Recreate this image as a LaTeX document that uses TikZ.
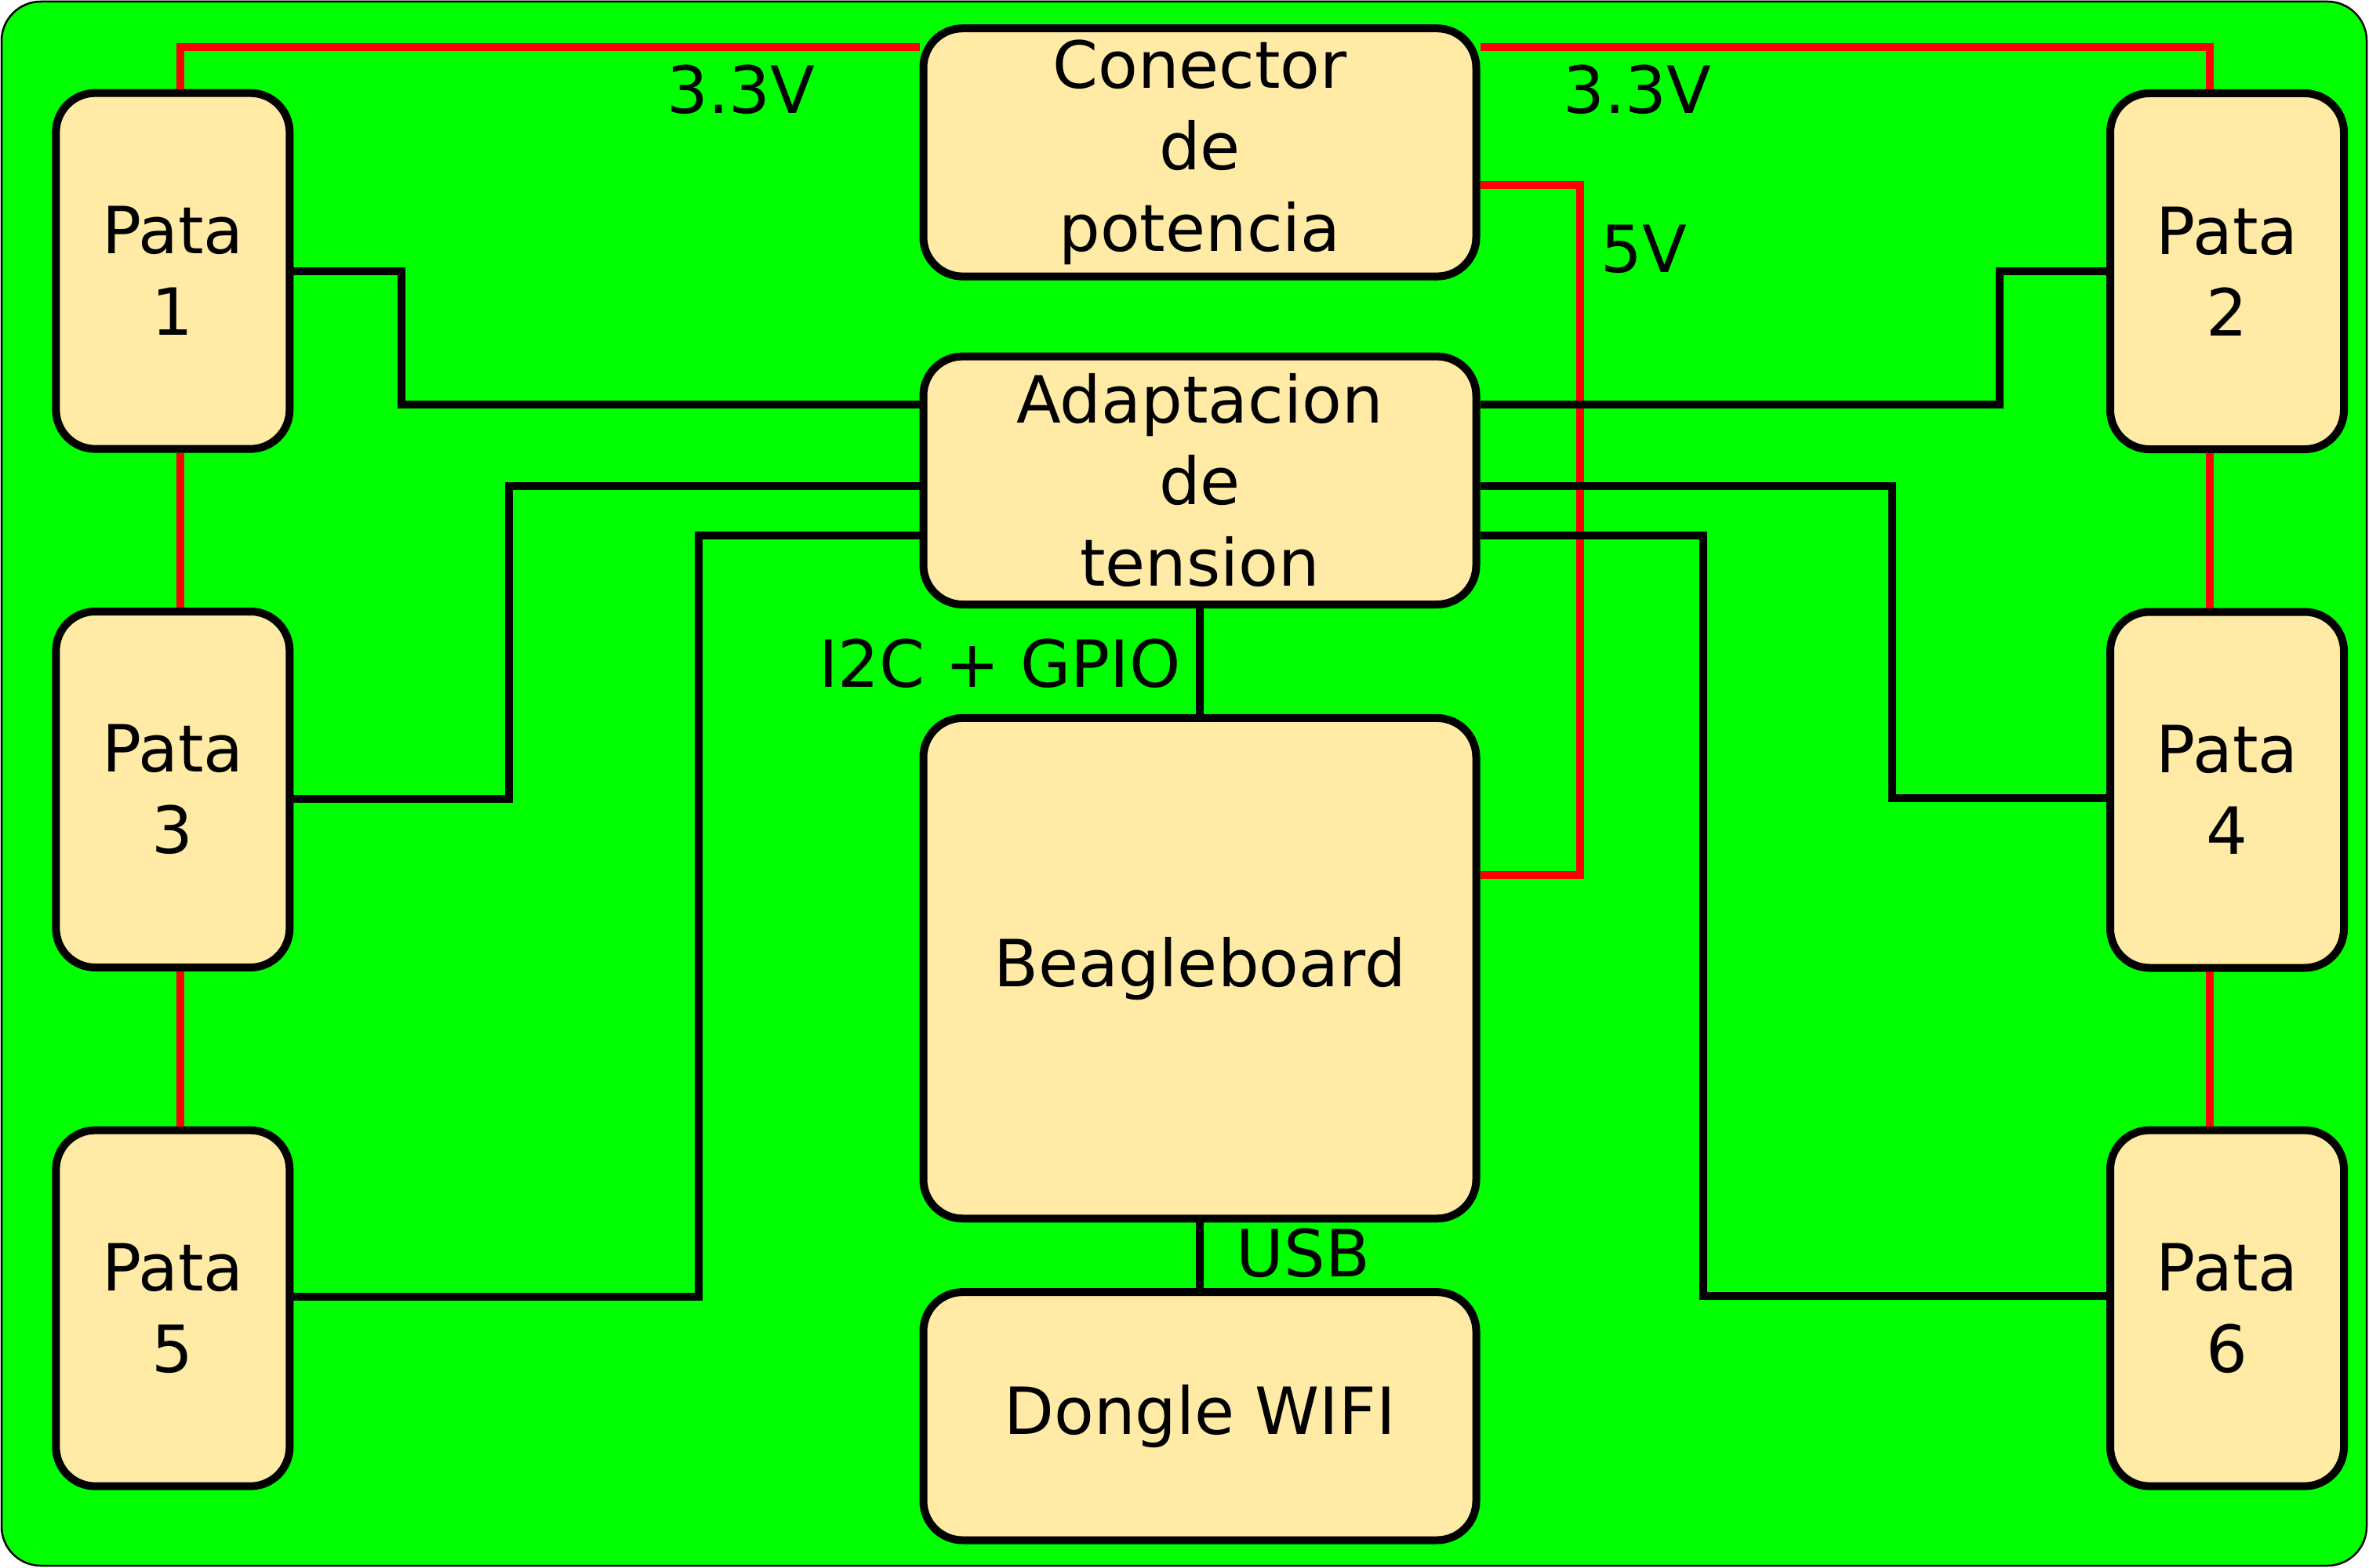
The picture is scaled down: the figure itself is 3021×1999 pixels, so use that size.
\documentclass[tikz,border=0pt]{standalone}
\usepackage{fontspec}
\setmainfont{DejaVu Sans}
\definecolor{placa}{RGB}{0,255,0}
\definecolor{caja}{RGB}{255,235,166}
\newcommand{\letra}{\fontsize{83pt}{104pt}\selectfont}
\tikzset{
  bloque/.style={draw, line width=10pt, rounded corners=50pt, fill=caja,
    align=center, inner sep=0pt, font=\letra},
  pata/.style={bloque, minimum width=298pt, minimum height=454pt},
  central/.style={bloque, minimum width=705pt, minimum height=316.4pt},
  bus/.style={line width=10pt, black},
  alim/.style={line width=10pt, red},
  etiqueta/.style={anchor=base, inner sep=0pt, font=\letra}
}

\begin{document}
\begin{tikzpicture}[x=1pt,y=-1pt]
\useasboundingbox (0,0) rectangle (3021,1999);
\draw [fill=placa, line width=2.5pt, rounded corners=50pt] (2,2) rectangle (3018,1997);

% patas
\node [pata] (p1) at (220.35,345.65) {Pata\\1};
\node [pata] (p3) at (220.35,1007) {Pata\\3};
\node [pata] (p5) at (220.35,1668.65) {Pata\\5};
\node [pata] (p2) at (2840,346) {Pata\\2};
\node [pata] (p4) at (2840,1007.5) {Pata\\4};
\node [pata] (p6) at (2840,1668.6) {Pata\\6};

% bloques centrales
\node [central] (conector) at (1530,194.4) {Conector\\de\\potencia};
\node [central] (adapt) at (1530,612.8) {Adaptacion\\de\\tension};
\node [central, minimum height=638.4pt] (beagle) at (1530,1235.1) {Beagleboard};
\node [central] (dongle) at (1530,1806.3) {Dongle WIFI};

\coordinate (q1) at (512.4,516);
\coordinate (q3) at (649,620);
\coordinate (q5) at (891.3,682.5);
\coordinate (q2) at (2550.3,516);
\coordinate (q4) at (2413.2,620);
\coordinate (q6) at (2172.1,682.5);
\coordinate (qv) at (2015,1116);

% alimentacion
\draw [alim] ([xshift=9.3pt]p1.north) |- ([yshift=134.4pt]conector.west);
\draw [alim] ([yshift=134.4pt]conector.east) -| ([xshift=-22pt]p2.north);
\draw [alim] ([xshift=9.3pt]p1.south) -- ([xshift=9.3pt]p3.north);
\draw [alim] ([xshift=9.3pt]p3.south) -- ([xshift=9.3pt]p5.north);
\draw [alim] ([xshift=-22pt]p2.south) -- ([xshift=-22pt]p4.north);
\draw [alim] ([xshift=-22pt]p4.south) -- ([xshift=-22pt]p6.north);
\draw [alim] ([yshift=-41.1pt]conector.east) -| (qv) -- (qv -| beagle.east);

% senales
\draw [bus] (p1.east) -| (q1) -- (q1 -| adapt.west);
\draw [bus] ([yshift=-11.8pt]p3.east) -| (q3) -- (q3 -| adapt.west);
\draw [bus] ([yshift=14.6pt]p5.east) -| (q5) -- (q5 -| adapt.west);
\draw [bus] (p2.west) -| (q2) -- (q2 -| adapt.east);
\draw [bus] ([yshift=-10.6pt]p4.west) -| (q4) -- (q4 -| adapt.east);
\draw [bus] ([yshift=16pt]p6.west) -| (q6) -- (q6 -| adapt.east);
\draw [bus] (adapt.south) -- (beagle.north);
\draw [bus] (beagle.south) -- (dongle.north);

\node [etiqueta] (v33a) at (945,144.3) {3.3V};
\node [etiqueta] (v33b) at (2088,144.4) {3.3V};
\node [etiqueta] (v5) at (2096,347) {5V};
\node [etiqueta] (i2c) at (1275,876.7) {I2C + GPIO};
\node [etiqueta] (usb) at (1662,1628) {USB};
\end{tikzpicture}
\end{document}
